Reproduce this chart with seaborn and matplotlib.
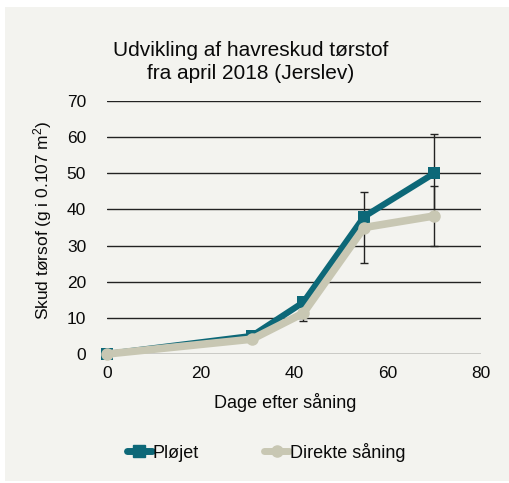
import pandas as pd
import numpy as np
import matplotlib
matplotlib.use('Agg')
import matplotlib.pyplot as plt
from matplotlib.patches import Rectangle
import seaborn as sns

# Data
days = [0, 31, 42, 55, 70]
ploejet = [0, 5, 14.3, 38, 50]
direkte = [0, 4.1, 11.3, 35, 38.2]
ploejet_err = [0, 0, 0, 0, 11]
direkte_err = [0, 0.5, 2.2, 9.9, 8.4]
series_names = ['Pløjet', 'Direkte såning']
colors = ['#0d6878', '#c8c7b3']

bg = '#f3f3ef'

sns.set_style("white")
plt.rcParams['font.family'] = ['Liberation Sans', 'DejaVu Sans']
plt.rcParams['mathtext.fontset'] = 'custom'
plt.rcParams['mathtext.rm'] = 'Liberation Sans'
plt.rcParams['mathtext.it'] = 'Liberation Sans'
plt.rcParams['text.color'] = '#0a0a0a'
plt.rcParams['axes.labelcolor'] = '#0a0a0a'

df = pd.DataFrame({
    'day': days * 2,
    'value': ploejet + direkte,
    'serie': [series_names[0]] * len(days) + [series_names[1]] * len(days),
})

fig = plt.figure(figsize=(5.10, 4.83), dpi=100, facecolor='white')
fig.patches.append(Rectangle((5 / 510, 1 - 481 / 483), 505 / 510, 474 / 483,
                             transform=fig.transFigure, facecolor=bg,
                             edgecolor='none', zorder=-10))
ax = fig.add_axes([107 / 510, 1 - 354 / 483, 374 / 510, 253 / 483])
ax.set_facecolor(bg)

# error bars
ax.errorbar(days, ploejet, yerr=ploejet_err, fmt='none', ecolor='#222222',
            elinewidth=1, capsize=3, capthick=1, zorder=2)
ax.errorbar(days, direkte, yerr=direkte_err, fmt='none', ecolor='#222222',
            elinewidth=1, capsize=3, capthick=1, zorder=2)

sns.lineplot(data=df, x='day', y='value', hue='serie', style='serie',
             palette=colors, markers={series_names[0]: 's', series_names[1]: 'o'},
             dashes=False, markersize=9, linewidth=4.5, markeredgewidth=0,
             ax=ax, zorder=3, legend=False)
ax.lines[-1].set_linewidth(5.5)

ax.set_xlim(0, 80)
ax.set_ylim(0, 70)
ax.set_xticks(np.arange(0, 81, 20))
ax.set_yticks(np.arange(0, 71, 10))
ax.yaxis.grid(True, color='#222222', linewidth=1)
ax.set_axisbelow(True)
for s in ax.spines.values():
    s.set_visible(False)
ax.tick_params(length=0, labelsize=12.5, colors='#0a0a0a')
ax.tick_params(axis='x', pad=9)
ax.tick_params(axis='y', pad=15)
for ln in ax.lines:
    ln.set_clip_on(False)

ax.set_xlabel('Dage efter såning', fontsize=13, labelpad=8, x=0.476)
ax.set_ylabel('Skud tørsof (g i 0.107 m$^2$)', fontsize=12.5, labelpad=9, y=0.53)
fig.text(251 / 510, 1 - 62 / 483, 'Udvikling af havreskud tørstof\nfra april 2018 (Jerslev)',
         ha='center', va='center', fontsize=15, linespacing=1.25)

handles = [plt.Line2D([], [], color=colors[0], marker='s', lw=5, markersize=8),
           plt.Line2D([], [], color=colors[1], marker='o', lw=5, markersize=8)]
fig.legend(handles, series_names, loc='center', bbox_to_anchor=(0.522, 1 - 452 / 483),
           ncol=2, frameon=False, fontsize=13, handlelength=1.4,
           handletextpad=0.05, columnspacing=3.6)

fig.savefig('out.png', dpi=100, facecolor=fig.get_facecolor())
